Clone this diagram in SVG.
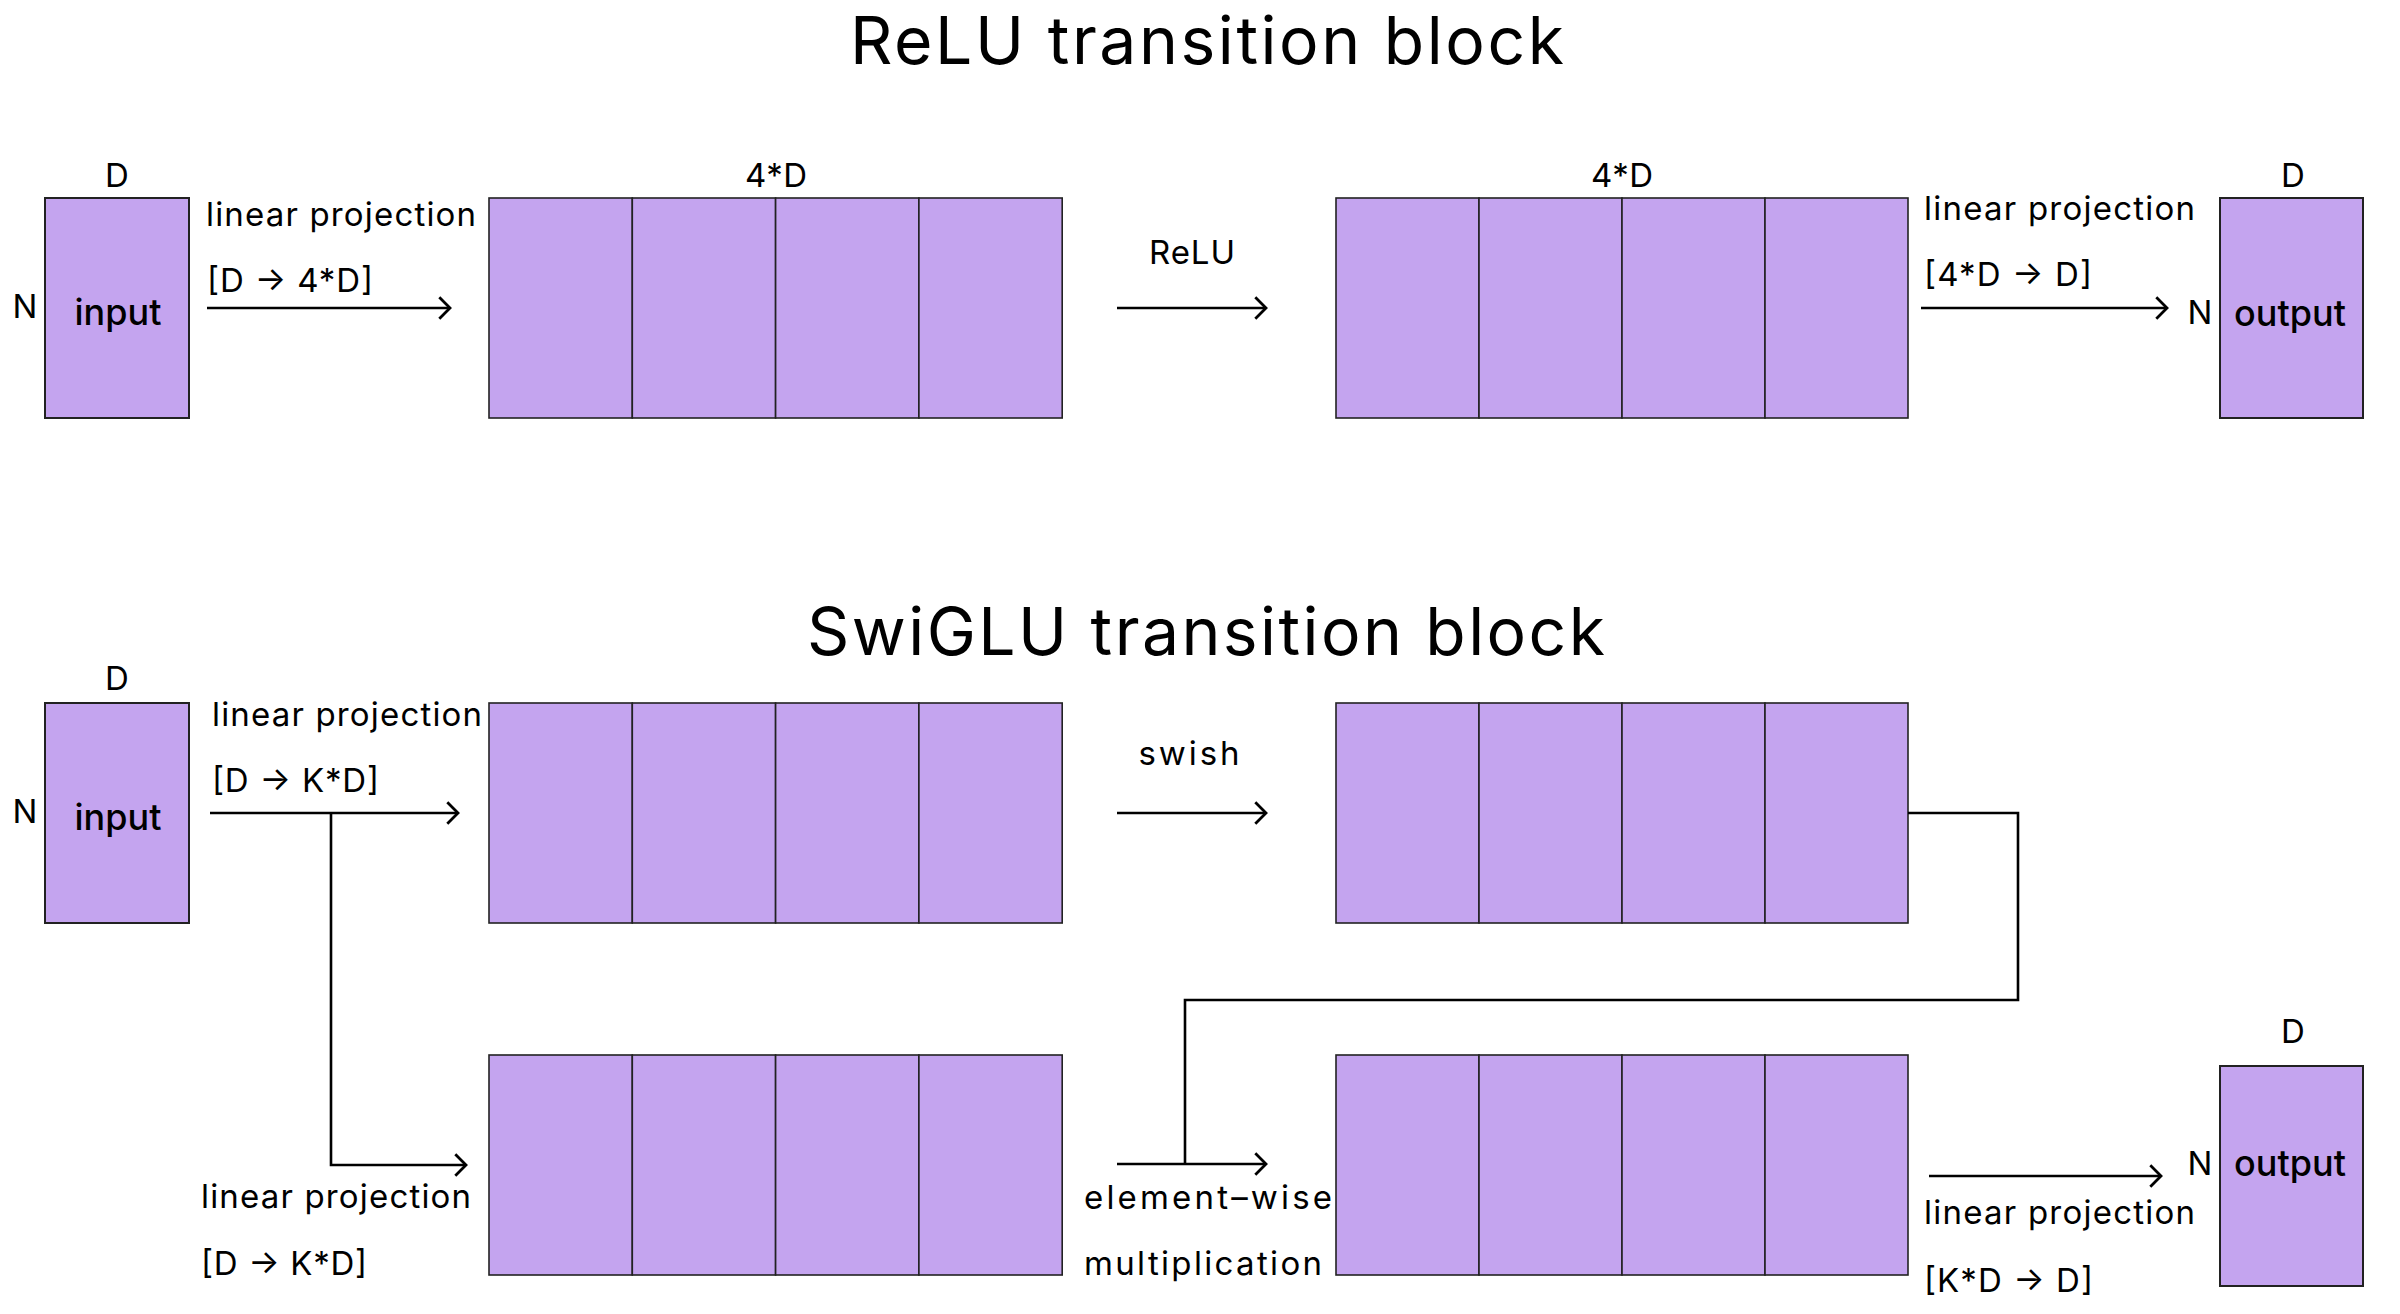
<svg xmlns="http://www.w3.org/2000/svg" width="2400" height="1314" viewBox="0 0 2400 1314">
<defs>
<style>
text{font-family:Inter,"Noto Sans","Liberation Sans",sans-serif;fill:#000}
.t{font-size:66px}
.l{font-size:33px}
.io{font-size:36px;font-weight:500}
.m{text-anchor:middle}
.box{fill:#C4A4EF;stroke:#222;stroke-width:2}
.cell{fill:#C4A4EF;stroke:#222;stroke-width:1.6}
.c{fill:none;stroke:#000;stroke-width:2.6}
</style>
<marker id="ah" markerUnits="userSpaceOnUse" markerWidth="30" markerHeight="30" viewBox="-14 -14 28 28" refX="0" refY="0" orient="auto">
<path d="M-10,-10 L0,0 L-10,10" fill="none" stroke="#000" stroke-width="2.6"/>
</marker>
</defs>
<rect width="2400" height="1314" fill="#fff"/>

<text class="t m" x="1207" y="64" textLength="714">ReLU transition block</text>
<text class="t m" x="1206" y="655" textLength="798">SwiGLU transition block</text>

<!-- ReLU section -->
<g id="relu-input">
<rect class="box" x="45" y="198" width="144" height="220"/>
<text class="l m" x="117" y="187">D</text>
<text class="l m" x="25" y="318">N</text>
<text class="io m" x="118" y="325">input</text>
</g>
<g id="relu-hidden1">
<rect class="cell" x="489" y="198" width="143.3" height="220"/>
<rect class="cell" x="632.3" y="198" width="143.3" height="220"/>
<rect class="cell" x="775.6" y="198" width="143.3" height="220"/>
<rect class="cell" x="918.9" y="198" width="143.3" height="220"/>
<text class="l m" x="776" y="187" textLength="62">4*D</text>
</g>
<g id="relu-hidden2">
<rect class="cell" x="1336" y="198" width="143" height="220"/>
<rect class="cell" x="1479" y="198" width="143" height="220"/>
<rect class="cell" x="1622" y="198" width="143" height="220"/>
<rect class="cell" x="1765" y="198" width="143" height="220"/>
<text class="l m" x="1622" y="187" textLength="62">4*D</text>
</g>
<g id="relu-output">
<rect class="box" x="2220" y="198" width="143" height="220"/>
<text class="l m" x="2293" y="187">D</text>
<text class="l m" x="2200" y="324">N</text>
<text class="io m" x="2290" y="326">output</text>
</g>
<g id="relu-labels">
<text class="l" x="206" y="226" textLength="270">linear projection</text>
<text class="l" x="207" y="292" textLength="166">[D → 4*D]</text>
<text class="l m" x="1192" y="264" textLength="86">ReLU</text>
<text class="l" x="1924" y="220" textLength="271">linear projection</text>
<text class="l" x="1924" y="286" textLength="168">[4*D → D]</text>
</g>

<!-- SwiGLU section -->
<g id="swiglu-input">
<rect class="box" x="45" y="703" width="144" height="220"/>
<text class="l m" x="117" y="690">D</text>
<text class="l m" x="25" y="823">N</text>
<text class="io m" x="118" y="830">input</text>
</g>
<g id="swiglu-gate">
<rect class="cell" x="489" y="703" width="143.3" height="220"/>
<rect class="cell" x="632.3" y="703" width="143.3" height="220"/>
<rect class="cell" x="775.6" y="703" width="143.3" height="220"/>
<rect class="cell" x="918.9" y="703" width="143.3" height="220"/>
</g>
<g id="swiglu-swish">
<rect class="cell" x="1336" y="703" width="143" height="220"/>
<rect class="cell" x="1479" y="703" width="143" height="220"/>
<rect class="cell" x="1622" y="703" width="143" height="220"/>
<rect class="cell" x="1765" y="703" width="143" height="220"/>
</g>
<g id="swiglu-value">
<rect class="cell" x="489" y="1055" width="143.3" height="220"/>
<rect class="cell" x="632.3" y="1055" width="143.3" height="220"/>
<rect class="cell" x="775.6" y="1055" width="143.3" height="220"/>
<rect class="cell" x="918.9" y="1055" width="143.3" height="220"/>
</g>
<g id="swiglu-product">
<rect class="cell" x="1336" y="1055" width="143" height="220"/>
<rect class="cell" x="1479" y="1055" width="143" height="220"/>
<rect class="cell" x="1622" y="1055" width="143" height="220"/>
<rect class="cell" x="1765" y="1055" width="143" height="220"/>
</g>
<g id="swiglu-output">
<rect class="box" x="2220" y="1066" width="143" height="220"/>
<text class="l m" x="2293" y="1043">D</text>
<text class="l m" x="2200" y="1175">N</text>
<text class="io m" x="2290" y="1176">output</text>
</g>
<g id="swiglu-labels">
<text class="l" x="212" y="726" textLength="270">linear projection</text>
<text class="l" x="212" y="792" textLength="167">[D → K*D]</text>
<text class="l" x="201" y="1208" textLength="270">linear projection</text>
<text class="l" x="201" y="1275" textLength="166">[D → K*D]</text>
<text class="l m" x="1189" y="765" textLength="101">swish</text>
<text class="l" x="1084" y="1209" textLength="248">element–wise</text>
<text class="l" x="1084" y="1275" textLength="238">multiplication</text>
<text class="l" x="1924" y="1224" textLength="271">linear projection</text>
<text class="l" x="1924" y="1292" textLength="169">[K*D → D]</text>
</g>

<g id="connectors">
<line class="c" x1="207" y1="308" x2="450" y2="308" marker-end="url(#ah)"/>
<line class="c" x1="1117" y1="308" x2="1266" y2="308" marker-end="url(#ah)"/>
<line class="c" x1="1921" y1="308" x2="2167" y2="308" marker-end="url(#ah)"/>
<line class="c" x1="210" y1="813" x2="458" y2="813" marker-end="url(#ah)"/>
<polyline class="c" points="331,813 331,1165 466,1165" marker-end="url(#ah)"/>
<line class="c" x1="1117" y1="813" x2="1266" y2="813" marker-end="url(#ah)"/>
<polyline class="c" points="1908,813 2018,813 2018,1000 1185,1000 1185,1164"/>
<line class="c" x1="1117" y1="1164" x2="1266" y2="1164" marker-end="url(#ah)"/>
<line class="c" x1="1929" y1="1176" x2="2161" y2="1176" marker-end="url(#ah)"/>
</g>
</svg>
